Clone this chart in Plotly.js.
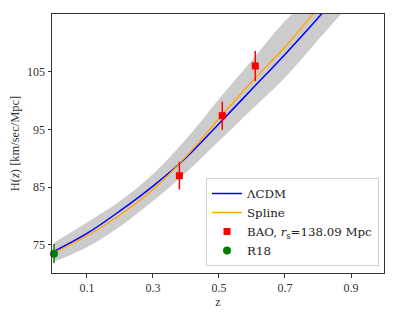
<!DOCTYPE html>
<html>
<head>
<meta charset="utf-8">
<script src="https://cdn.plot.ly/plotly-3.0.1.min.js"></script>
<style>html,body{margin:0;padding:0;background:#fff;}#chart{width:399px;height:318px;}</style>
</head>
<body>
<div id="chart"></div>
<script>
// Curve sampling redshifts
var zGrid = [0, 0.1, 0.2, 0.3, 0.4, 0.5, 0.6, 0.7, 0.8, 0.9, 1.0];
// LCDM curve
var hLCDM = [73.9, 77.0, 80.9, 85.2, 90.1, 96.0, 102.0, 108.0, 114.3, 121.0, 128.0];
// Spline reconstruction
var hSpline = [73.6, 76.6, 80.2, 84.6, 90.3, 96.9, 103.3, 109.3, 116.0, 123.0, 130.0];
// Spline confidence band
var bandUpper = [75.4, 78.9, 82.6, 87.3, 93.3, 100.3, 107.0, 113.8, 119.0, 125.5, 132.0];
var bandLower = [72.1, 74.6, 78.2, 82.6, 87.5, 93.0, 98.5, 104.0, 110.5, 117.0, 124.0];
// BAO data
var zBAO = [0.38, 0.51, 0.61];
var hBAO = [87.0, 97.4, 106.0];
var eBAO = [2.4, 2.45, 2.6];
// R18
var zR18 = [0.0];
var hR18 = [73.5];
var eR18 = [1.66];
// Axis ticks
var xTicks = [0.1, 0.3, 0.5, 0.7, 0.9];
var yTicks = [75, 85, 95, 105];

var serif = "'Liberation Serif', 'DejaVu Serif', serif";
var serifWide = "'DejaVu Serif', 'Liberation Serif', serif";

var traces = [
  {x: zGrid, y: bandLower, mode: 'lines', line: {width: 0, shape: 'spline'}, showlegend: false, hoverinfo: 'skip'},
  {x: zGrid, y: bandUpper, mode: 'lines', line: {width: 0, shape: 'spline'}, fill: 'tonexty', fillcolor: '#cccccc', showlegend: false, hoverinfo: 'skip'},
  {x: zGrid, y: hLCDM, mode: 'lines', name: '\u039bCDM', line: {color: '#0000ff', width: 1.5, shape: 'spline'}},
  {x: zGrid, y: hSpline, mode: 'lines', name: 'Spline', line: {color: '#ffa500', width: 1.4, shape: 'spline'}},
  {x: zBAO, y: hBAO, mode: 'markers', name: 'BAO, <i>r</i><sub>s</sub>=138.09 Mpc',
   marker: {symbol: 'square', color: '#ff0000', size: 7},
   error_y: {type: 'data', array: eBAO, visible: true, color: '#ff0000', thickness: 1.5, width: 0}},
  {x: zR18, y: hR18, mode: 'markers', name: 'R18', cliponaxis: false,
   marker: {symbol: 'circle', color: '#008000', size: 8},
   error_y: {type: 'data', array: eR18, visible: true, color: '#008000', thickness: 1.5, width: 0}}
];

var layout = {
  width: 399, height: 318,
  margin: {l: 52, r: 15, t: 14, b: 45},
  paper_bgcolor: '#ffffff', plot_bgcolor: '#ffffff',
  font: {family: serif, size: 12, color: '#222'},
  showlegend: true,
  legend: {x: 0.985, y: 0.027, xanchor: 'right', yanchor: 'bottom', traceorder: 'normal',
           bgcolor: 'rgba(255,255,255,0.85)', bordercolor: '#d0d0d0', borderwidth: 1,
           font: {family: serifWide, size: 11.8, color: '#222'}, tracegroupgap: 0},
  xaxis: {range: [-0.006, 1.0], tickvals: xTicks, ticktext: xTicks.map(String),
          showgrid: false, zeroline: false, showline: true, mirror: true,
          linecolor: '#333', linewidth: 1, ticks: 'outside', ticklen: 3.5, tickwidth: 1, tickcolor: '#333',
          tickfont: {family: serif, size: 12, color: '#333'},
          title: {text: 'z', font: {family: serif, size: 12, color: '#333'}, standoff: 0}},
  yaxis: {range: [70.15, 115.0], tickvals: yTicks, ticktext: yTicks.map(String),
          showgrid: false, zeroline: false, showline: true, mirror: true,
          linecolor: '#333', linewidth: 1, ticks: 'outside', ticklen: 3.5, tickwidth: 1, tickcolor: '#333',
          tickfont: {family: serif, size: 12, color: '#333'},
          title: {text: 'H(<i>z</i>) [km/sec/Mpc]', font: {family: serif, size: 12.5, color: '#333'}, standoff: 4}}
};

Plotly.newPlot('chart', traces, layout, {staticPlot: true, displayModeBar: false});
</script>
</body>
</html>
